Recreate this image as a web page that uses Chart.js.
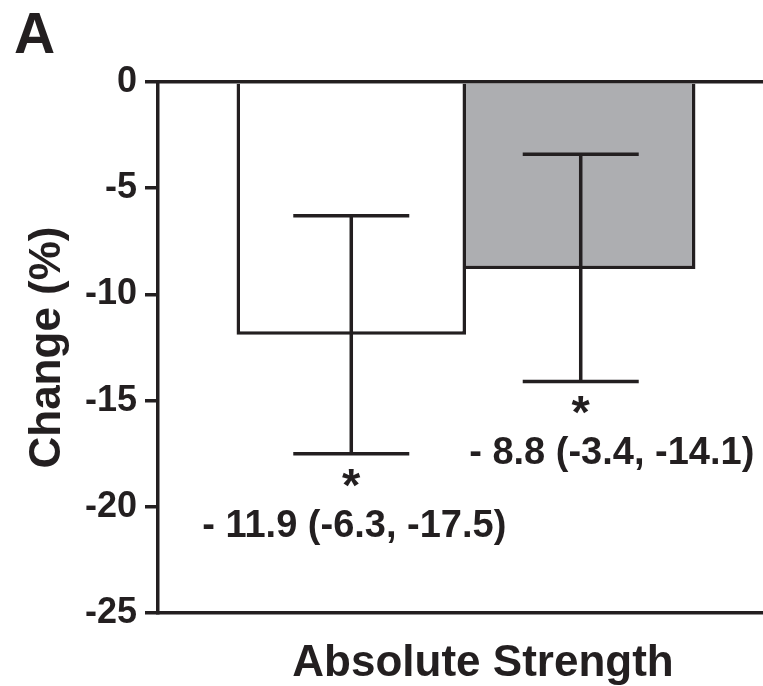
<!DOCTYPE html>
<html>
<head>
<meta charset="utf-8">
<script src="https://cdn.jsdelivr.net/npm/chart.js@4/dist/chart.umd.min.js"></script>
<style>
  html, body { margin: 0; padding: 0; background: #ffffff; overflow: hidden; }
  #wrap { width: 763px; height: 686px; position: relative; overflow: hidden; }
  canvas { display: block; }
</style>
</head>
<body>
<div id="wrap"><canvas id="c" width="774" height="686"></canvas></div>
<script>
// ---- data ----
const categories = ['Absolute Strength'];
const groupNames = ['Group 1', 'Group 2'];
const meanChange = [-11.9, -8.8];
const ciUpper = [-6.3, -3.4];
const ciLower = [-17.5, -14.1];
const significance = ['*', '*'];
const annotationLabels = ['- 11.9 (-6.3, -17.5)', '- 8.8 (-3.4, -14.1)'];
const yTickMin = -25;
const yTickMax = 0;
const yTickStep = 5;
const panelLabel = 'A';
const yTitle = 'Change (%)';

// ---- styles ----
const INK = '#231f20';
const LW = 3.5;
const FONT = "'Liberation Sans', Arial, Helvetica, sans-serif";
const barFills = ['#ffffff', '#adaeb1'];
const barBorders = [
  { top: 0, left: LW, right: LW, bottom: LW },
  { top: 0, left: 0, right: LW, bottom: LW }
];

const errorBarPlugin = {
  id: 'errorBars',
  afterDatasetsDraw(chart, args, opts) {
    const ctx = chart.ctx;
    const y = chart.scales.y;
    ctx.save();
    ctx.strokeStyle = INK;
    ctx.lineWidth = LW;
    ctx.lineCap = 'butt';
    chart.data.datasets.forEach((ds, i) => {
      const bar = chart.getDatasetMeta(i).data[0];
      if (!bar) return;
      const x = bar.x;
      const yTop = y.getPixelForValue(ciUpper[i]);
      const yBot = y.getPixelForValue(ciLower[i]);
      const hw = opts.whiskerHalf;
      ctx.beginPath();
      ctx.moveTo(x, yTop); ctx.lineTo(x, yBot);
      ctx.moveTo(x - hw, yTop); ctx.lineTo(x + hw, yTop);
      ctx.moveTo(x - hw, yBot); ctx.lineTo(x + hw, yBot);
      ctx.stroke();

      // significance star
      ctx.fillStyle = INK;
      ctx.textAlign = 'center';
      ctx.textBaseline = 'alphabetic';
      ctx.font = 'bold ' + opts.starSize + 'px ' + FONT;
      let m = ctx.measureText(significance[i]);
      let cy = yBot + opts.starGap;
      ctx.fillText(significance[i], x, cy + (m.actualBoundingBoxAscent - m.actualBoundingBoxDescent) / 2);

      // estimate label
      ctx.font = 'bold ' + opts.labelSize + 'px ' + FONT;
      m = ctx.measureText(annotationLabels[i]);
      cy = yBot + opts.labelGap;
      ctx.fillText(annotationLabels[i], x + opts.labelShift[i], cy + (m.actualBoundingBoxAscent - m.actualBoundingBoxDescent) / 2);
    });
    ctx.restore();
  }
};

const panelPlugin = {
  id: 'panelLabel',
  afterDraw(chart) {
    const ctx = chart.ctx;
    ctx.save();
    ctx.fillStyle = INK;
    ctx.font = 'bold 57px ' + FONT;
    ctx.textAlign = 'left';
    ctx.textBaseline = 'alphabetic';
    ctx.fillText(panelLabel, 14, 53);
    ctx.restore();
  }
};

new Chart(document.getElementById('c'), {
  type: 'bar',
  data: {
    labels: categories,
    datasets: groupNames.map((name, i) => ({
      label: name,
      data: [meanChange[i]],
      backgroundColor: barFills[i],
      borderColor: INK,
      borderWidth: barBorders[i],
      borderSkipped: false,
      inflateAmount: 0,
      barPercentage: 1,
      categoryPercentage: 0.745
    }))
  },
  options: {
    responsive: false,
    animation: false,
    events: [],
    layout: { padding: 0 },
    plugins: {
      legend: { display: false },
      tooltip: { enabled: false },
      errorBars: { whiskerHalf: 58, starSize: 47, starGap: 24, labelSize: 38, labelGap: 73, labelShift: [3, 31] }
    },
    scales: {
      y: {
        min: yTickMin,
        max: yTickMax,
        afterFit(s) { s.width = 158; },
        ticks: {
          stepSize: yTickStep,
          color: INK,
          font: { family: FONT, size: 36, weight: 'bold' },
          padding: 8
        },
        grid: {
          display: true,
          drawOnChartArea: false,
          drawTicks: true,
          tickLength: 13,
          color: INK,
          lineWidth: LW
        },
        border: { display: true, color: INK, width: LW },
        title: {
          display: true,
          text: yTitle,
          color: INK,
          font: { family: FONT, size: 44, weight: 'bold' },
          padding: { top: 21, bottom: 0 }
        }
      },
      x: {
        position: 'bottom',
        afterFit(s) { s.height = 73; },
        grid: { display: false, drawTicks: false },
        border: { display: true, color: INK, width: LW },
        ticks: {
          color: INK,
          font: { family: FONT, size: 44, weight: 'bold' },
          padding: 24,
          labelOffset: 17,
          maxRotation: 0
        }
      },
      xTop: {
        type: 'category',
        axis: 'x',
        position: 'top',
        afterFit(s) { s.height = 82; },
        grid: { display: false, drawTicks: false },
        border: { display: true, color: INK, width: LW },
        ticks: { display: false }
      }
    }
  },
  plugins: [errorBarPlugin, panelPlugin]
});
</script>
</body>
</html>
